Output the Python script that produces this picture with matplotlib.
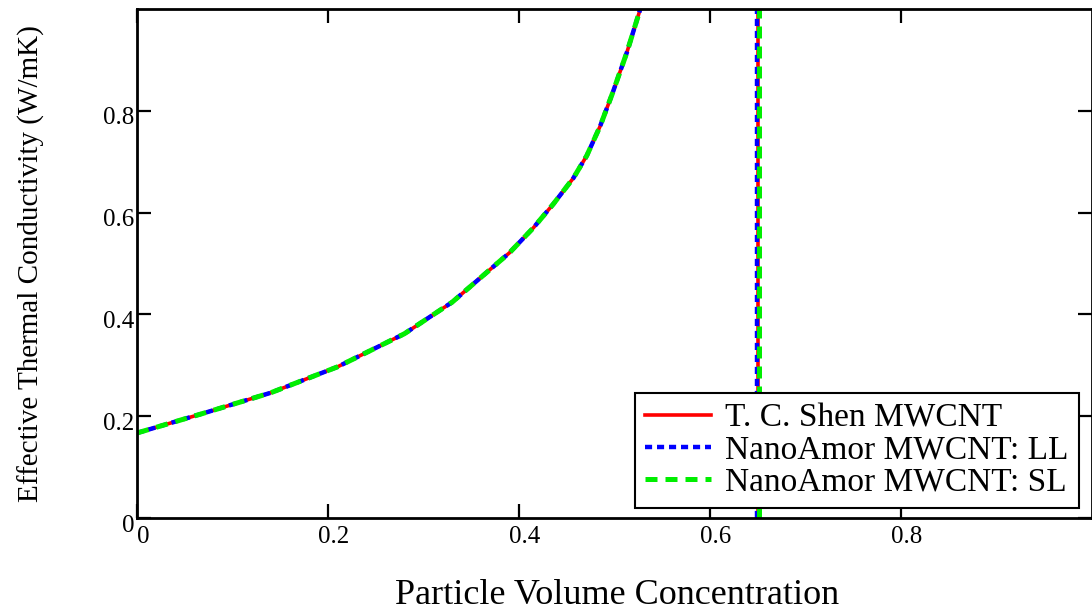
import numpy as np
import matplotlib.pyplot as plt
import matplotlib.transforms as mtransforms

# Effective thermal conductivity vs particle volume concentration
phi = [0.0, 0.07, 0.14, 0.21, 0.28, 0.33, 0.39, 0.415, 0.436, 0.457,
       0.471, 0.485, 0.498, 0.513, 0.527]
k_shen = [0.167, 0.206, 0.246, 0.297, 0.362, 0.424, 0.521, 0.570, 0.617, 0.668,
          0.712, 0.770, 0.835, 0.915, 1.0]
k_ll = list(k_shen)
k_sl = list(k_shen)

# vertical branch near maximum packing fraction
phi_max = 0.650
phi_max_ll = 0.649
phi_max_sl = 0.651

labels = ["T. C. Shen MWCNT", "NanoAmor MWCNT: LL", "NanoAmor MWCNT: SL"]
xticks = [0, 0.2, 0.4, 0.6, 0.8]
xtick_labels = ["0", "0.2", "0.4", "0.6", "0.8"]
yticks = [0, 0.2, 0.4, 0.6, 0.8]
ytick_labels = ["0", "0.2", "0.4", "0.6", "0.8"]

plt.rcParams['font.family'] = ['Liberation Serif', 'DejaVu Serif']

fig = plt.figure(figsize=(10.92, 6.12), dpi=100)
ax = fig.add_axes([137 / 1092, 94 / 612, 955 / 1092, 509 / 612])

ax.plot(phi, k_shen, color='#ff0000', lw=2.6, label=labels[0])
ax.plot([phi_max, phi_max], [0, 1.05], color='#ff0000', lw=2.6)

ax.plot(phi, k_ll, color='#0000ff', lw=3.2, dashes=(1.6, 1.1), label=labels[1])
ax.plot([phi_max_ll, phi_max_ll], [0, 1.05], color='#0000ff', lw=3.2, dashes=(1.6, 1.1))

ax.plot(phi, k_sl, color='#00ee00', lw=3.6, dashes=(2.4, 1.6), label=labels[2])
ax.plot([phi_max_sl, phi_max_sl], [0, 1.05], color='#00ee00', lw=3.6, dashes=(2.4, 1.6))

ax.set_xlim(0, 1.0)
ax.set_ylim(0, 1.0)
ax.set_xticks(xticks)
ax.set_xticklabels(xtick_labels)
ax.set_yticks(yticks)
ax.set_yticklabels(ytick_labels)

ax.tick_params(direction='in', length=10, width=1.6, top=True, right=True,
               labelsize=18, colors='black')
ax.tick_params(axis='x', pad=6)
ax.tick_params(axis='y', pad=2)
for s in ax.spines.values():
    s.set_linewidth(2.0)

# small offsets like the original renderer
dx = mtransforms.ScaledTranslation(6 / 100, 0, fig.dpi_scale_trans)
for lab in ax.get_xticklabels():
    lab.set_transform(lab.get_transform() + dx)
dy = mtransforms.ScaledTranslation(0, -5 / 100, fig.dpi_scale_trans)
for lab in ax.get_yticklabels():
    lab.set_transform(lab.get_transform() + dy)

ax.set_xlabel("Particle Volume Concentration", fontsize=26)
ax.xaxis.set_label_coords(0.503, -0.12)
ax.set_ylabel("Effective Thermal Conductivity (W/mK)", fontsize=21)
ax.yaxis.set_label_coords(-0.096, 0.5)

leg = ax.legend(loc='lower right', bbox_to_anchor=(0.986, 0.02), borderaxespad=0,
                fontsize=24, labelspacing=0.05, handlelength=2.0, handletextpad=0.42,
                borderpad=0.3, fancybox=False, framealpha=1, edgecolor='black')
leg.get_frame().set_linewidth(1.5)

fig.savefig("out.png", dpi=100)
